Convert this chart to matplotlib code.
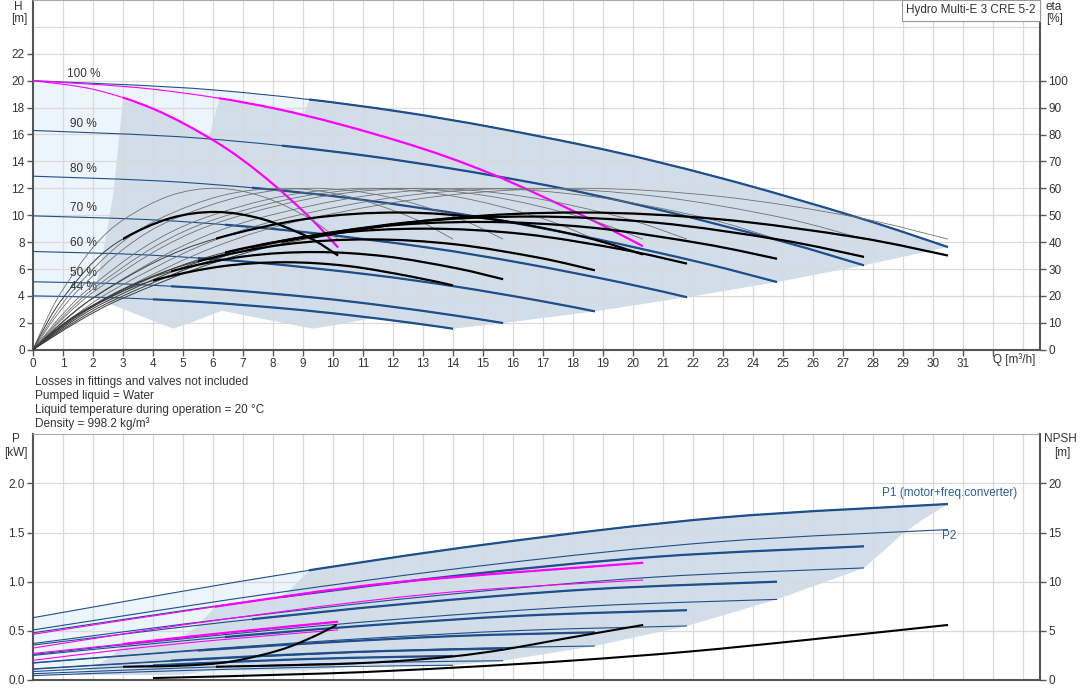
import matplotlib
matplotlib.use("Agg")
import matplotlib.pyplot as plt
from matplotlib.patches import Rectangle, PathPatch
from matplotlib.path import Path

plt.rcParams['font.family'] = ['Liberation Sans', 'DejaVu Sans']
plt.rcParams['font.size'] = 8.5

BLUE = '#1f4f8a'
MAG = '#ff00ff'
DARK_FILL = '#d1dde8'
LIGHT_FILL = '#ecf4fc'
GRID = '#d9d9d9'
AXC = '#555555'
TXT = '#333333'

# ---------------- Q-H curves, 3 pumps, per speed ----------------
speeds = ['100 %', '90 %', '80 %', '70 %', '60 %', '50 %', '44 %']
q3_100 = [0, 6.1, 12.2, 18.3, 22.88, 27.45, 30.5]
h3_100 = [20, 19.30, 17.71, 15.23, 12.79, 9.86, 7.63]
q3_90 = [0, 5.54, 11.08, 16.62, 20.78, 24.93, 27.7]
h3_90 = [16.3, 15.73, 14.43, 12.43, 10.45, 8.08, 6.27]
q3_80 = [0, 4.96, 9.92, 14.88, 18.6, 22.32, 24.8]
h3_80 = [12.9, 12.45, 11.44, 9.86, 8.31, 6.45, 5.03]
q3_70 = [0, 4.36, 8.72, 13.08, 16.35, 19.62, 21.8]
h3_70 = [9.95, 9.61, 8.82, 7.62, 6.42, 4.99, 3.9]
q3_60 = [0, 3.75, 7.49, 11.24, 14.05, 16.86, 18.73]
h3_60 = [7.3, 7.05, 6.47, 5.58, 4.71, 3.65, 2.85]
q3_50 = [0, 3.13, 6.27, 9.4, 11.75, 14.1, 15.67]
h3_50 = [5.05, 4.88, 4.48, 3.87, 3.26, 2.53, 1.98]
q3_44 = [0, 2.8, 5.6, 8.4, 10.5, 12.6, 14.0]
h3_44 = [4.0, 3.86, 3.55, 3.06, 2.58, 2.0, 1.56]
qmin_3p = [9.2, 8.3, 7.3, 6.4, 5.5, 4.6, 4.0]

# 1 and 2 pumps at 100 % (magenta)
q1_100 = [0, 2.03, 4.07, 6.1, 7.63, 9.15, 10.17]
h1_100 = [20, 19.35, 17.85, 15.45, 13.0, 10.0, 7.6]
q2_100 = [0, 4.07, 8.13, 12.2, 15.25, 18.3, 20.33]
h2_100 = [20, 19.35, 17.9, 15.5, 13.1, 10.0, 7.7]

# ---------------- efficiency curves [%] ----------------
qe_1p = [0, 0.51, 1.02, 2.03, 3.05, 4.58, 6.1, 7.63, 9.15, 10.17]
qe_2p = [0, 1.02, 2.03, 4.07, 6.1, 9.15, 12.2, 15.25, 18.3, 20.33]
qe_3p100 = [0, 1.53, 3.05, 6.1, 9.15, 13.73, 18.3, 22.88, 27.45, 30.5]
qe_3p90 = [0, 1.39, 2.77, 5.54, 8.31, 12.47, 16.62, 20.78, 24.93, 27.7]
qe_3p80 = [0, 1.24, 2.48, 4.96, 7.44, 11.16, 14.88, 18.6, 22.32, 24.8]
qe_3p70 = [0, 1.09, 2.18, 4.36, 6.54, 9.81, 13.08, 16.35, 19.62, 21.8]
qe_3p60 = [0, 0.94, 1.87, 3.75, 5.62, 8.43, 11.24, 14.05, 16.86, 18.73]
qe_3p50 = [0, 0.78, 1.57, 3.13, 4.7, 7.05, 9.4, 11.75, 14.1, 15.67]
qe_3p44 = [0, 0.7, 1.4, 2.8, 4.2, 6.3, 8.4, 10.5, 12.6, 14.0]
eta_pump = [0, 12.6, 22.8, 38.4, 48.6, 57.3, 60, 57, 49.2, 41.1]
eta_1p = [0, 10.8, 19.5, 32.8, 41.5, 48.9, 51.2, 48.6, 42.0, 35.0]
eta_2p = [0, 10.7, 19.4, 32.6, 41.3, 48.7, 51.0, 48.6, 42.1, 35.4]
eta_3p100 = [0, 10.7, 19.4, 32.6, 41.3, 48.7, 51.0, 48.5, 41.8, 35.0]
eta_3p90 = [0, 10.4, 18.8, 31.7, 40.1, 47.3, 49.5, 47.2, 40.8, 34.5]
eta_3p80 = [0, 10.0, 18.1, 30.4, 38.5, 45.4, 47.5, 45.4, 39.4, 33.8]
eta_3p70 = [0, 9.5, 17.1, 28.8, 36.5, 43.0, 45.0, 43.0, 37.3, 32.0]
eta_3p60 = [0, 8.6, 15.6, 26.2, 33.2, 39.2, 41.0, 39.2, 34.2, 29.5]
eta_3p50 = [0, 7.6, 13.8, 23.2, 29.4, 34.7, 36.3, 34.7, 30.3, 26.2]
eta_3p44 = [0, 6.8, 12.4, 20.8, 26.3, 31.0, 32.5, 31.1, 27.2, 23.9]

# ---------------- power curves [kW] ----------------
qp_100 = [0, 7.63, 15.25, 22.88, 30.5]
p1_100 = [0.634, 1.039, 1.385, 1.651, 1.79]
p2_100 = [0.509, 0.866, 1.173, 1.407, 1.53]
qp_90 = [0, 6.93, 13.85, 20.78, 27.7]
p1_90 = [0.48, 0.788, 1.052, 1.254, 1.36]
p2_90 = [0.371, 0.640, 0.871, 1.048, 1.14]
qp_80 = [0, 6.2, 12.4, 18.6, 24.8]
p1_80 = [0.355, 0.581, 0.774, 0.923, 1.0]
p2_80 = [0.26, 0.456, 0.624, 0.753, 0.82]
qp_70 = [0, 5.45, 10.9, 16.35, 21.8]
p1_70 = [0.25, 0.411, 0.549, 0.655, 0.71]
p2_70 = [0.175, 0.306, 0.419, 0.505, 0.55]
qp_60 = [0, 4.68, 9.37, 14.05, 18.73]
p1_60 = [0.172, 0.282, 0.375, 0.447, 0.485]
p2_60 = [0.11, 0.193, 0.263, 0.318, 0.346]
qp_50 = [0, 3.92, 7.84, 11.75, 15.67]
p1_50 = [0.113, 0.185, 0.248, 0.295, 0.32]
p2_50 = [0.064, 0.110, 0.150, 0.180, 0.196]
qp_44 = [0, 3.5, 7.0, 10.5, 14.0]
p1_44 = [0.086, 0.141, 0.189, 0.225, 0.244]
p2_44 = [0.045, 0.082, 0.113, 0.137, 0.15]

qm1_p = [0, 3.0, 6.1, 10.17]
pm1_p1 = [0.27, 0.366, 0.47, 0.593]
pm1_p2 = [0.2, 0.31, 0.405, 0.51]
qm2_p1 = [0, 6.07, 12.0, 20.34]
pm2_p1 = [0.465, 0.746, 0.99, 1.193]
qm2_p2 = [0, 5.0, 10.9, 15.0, 20.34]
pm2_p2 = [0.325, 0.56, 0.797, 0.92, 1.017]

# NPSH [m]
qn_1p = [3.0, 4.9, 6.57, 8.23, 9.34, 10.12]
npsh_1p = [1.35, 1.45, 1.86, 3.05, 4.4, 5.6]
qn_2p = [6.1, 9.9, 12.0, 14.0, 15.7, 17.7, 20.34]
npsh_2p = [1.35, 1.6, 1.9, 2.4, 3.1, 4.2, 5.6]
qn_3p = [4.0, 9.9, 14.0, 18.0, 21.9, 25.7, 30.5]
npsh_3p = [0.2, 0.68, 1.25, 1.98, 2.9, 4.05, 5.6]

# ---------------- operating areas ----------------
light_q = [0, 6.1, 9.2, 9.2, 4.0, 2.0, 0]
light_h = [20, 19.30, 18.49, 5.0, 3.85, 3.85, 3.8]
area1_q = [2.0, 2.29, 2.68, 3.0, 4.07, 6.1, 7.63, 9.15, 10.17, 9.23, 8.27, 7.27, 6.24, 5.22, 4.67]
area1_h = [3.9, 6.6, 11.6, 18.6, 17.85, 15.45, 13.0, 10.0, 7.6, 6.27, 5.03, 3.9, 2.85, 1.98, 1.56]
area2_q = [4.0, 4.58, 5.36, 6.2, 8.13, 12.2, 15.25, 18.3, 20.33, 18.47, 16.53, 14.53, 12.49, 10.45, 9.33]
area2_h = [3.9, 6.6, 11.6, 18.55, 17.9, 15.5, 13.1, 10.0, 7.7, 6.27, 5.03, 3.9, 2.85, 1.98, 1.56]
area3_q = [6.0, 6.87, 8.04, 9.2, 12.2, 18.3, 22.88, 27.45, 30.5, 27.7, 24.8, 21.8, 18.73, 15.67, 14.0]
area3_h = [3.9, 6.6, 11.6, 18.49, 17.71, 15.23, 12.79, 9.86, 7.63, 6.27, 5.03, 3.9, 2.85, 1.98, 1.56]

plight_q = [0, 7.63, 9.2, 9.2, 0]
plight_p = [0.634, 1.039, 1.11, 0.05, 0.05]
parea1_q = [1.33, 1.53, 1.83, 2.13, 2.43, 2.77, 3.0, 6.1, 10.17, 10.17, 9.23, 8.27, 7.27, 6.24, 5.22, 4.67]
parea1_p = [0.05, 0.065, 0.099, 0.145, 0.205, 0.28, 0.366, 0.47, 0.593, 0.51, 0.38, 0.273, 0.183, 0.115, 0.065, 0.05]
parea2_q = [2.67, 3.07, 3.67, 4.27, 4.87, 5.53, 6.07, 12.0, 20.34, 20.33, 18.47, 16.53, 14.53, 12.49, 10.45, 9.33]
parea2_p = [0.099, 0.131, 0.199, 0.29, 0.41, 0.56, 0.746, 0.99, 1.193, 1.017, 0.76, 0.547, 0.367, 0.23, 0.13, 0.1]
parea3_q = [4.0, 4.6, 5.5, 6.4, 7.3, 8.3, 9.2, 15.25, 22.88, 30.5, 29.6, 29.0, 28.3, 27.7, 24.8, 21.8, 18.73, 15.67, 14.0]
parea3_p = [0.148, 0.196, 0.298, 0.435, 0.615, 0.84, 1.11, 1.385, 1.651, 1.79, 1.62, 1.49, 1.3, 1.14, 0.82, 0.55, 0.346, 0.196, 0.15]


def smooth_path(q, y):
    # Bezier path through the read points (Catmull-Rom tangents)
    pts = list(zip(q, y))
    n = len(pts)
    verts = [pts[0]]
    codes = [Path.MOVETO]
    for i in range(n - 1):
        p0 = pts[i - 1] if i > 0 else pts[i]
        p1 = pts[i]
        p2 = pts[i + 1]
        p3 = pts[i + 2] if i + 2 < n else pts[i + 1]
        c1 = (p1[0] + (p2[0] - p0[0]) / 6, p1[1] + (p2[1] - p0[1]) / 6)
        c2 = (p2[0] - (p3[0] - p1[0]) / 6, p2[1] - (p3[1] - p1[1]) / 6)
        verts += [c1, c2, p2]
        codes += [Path.CURVE4] * 3
    return Path(verts, codes)


def curve(ax, q, y, color, lw, z, qs=None):
    patch = PathPatch(smooth_path(q, y), fill=False, edgecolor=color, lw=lw,
                      zorder=z, capstyle='butt', joinstyle='round')
    ax.add_patch(patch)
    if qs is not None:
        patch.set_clip_path(Rectangle((qs, -100), 300, 2000, transform=ax.transData))
    return patch


def split_line(ax, q, y, qs, color, thin=0.8, thick=1.6, thin_color=None, z=4):
    # thin over the whole curve, thick only from qs on
    curve(ax, q, y, thin_color or color, thin, z)
    curve(ax, q, y, color, thick, z + 0.1, qs)


def style_axes(ax, twin):
    for s in ['left', 'bottom']:
        ax.spines[s].set_color(AXC)
        ax.spines[s].set_linewidth(1.5)
    ax.spines['top'].set_color('#aaaaaa')
    ax.spines['right'].set_visible(False)
    for s in ['left', 'top', 'bottom']:
        twin.spines[s].set_visible(False)
    twin.spines['right'].set_color(AXC)
    twin.spines['right'].set_linewidth(1.5)
    for a in (ax, twin):
        a.tick_params(direction='out', length=4, width=1, color=AXC,
                      labelcolor=TXT, labelsize=8.5, pad=2)


def fig_label(x, y, s, **kw):
    fig.text(x / 1082, 1 - y / 700, s, color=TXT, fontsize=8.5, va='center', **kw)


XMAX = 1007 / 30
fig = plt.figure(figsize=(10.82, 7.0), dpi=100)

# ================= upper chart: H / eta =================
ax = fig.add_axes([33 / 1082, 1 - 349.7 / 700, 1007 / 1082, 349.7 / 700])
ax.set_xlim(0, XMAX)
ax.set_ylim(0, 26)
ax_eta = ax.twinx()
ax_eta.set_ylim(0, 130)
style_axes(ax, ax_eta)

for q in range(1, 34):
    ax.axvline(q, color=GRID, lw=0.9, zorder=1.5)
for h in range(2, 26, 2):
    ax.axhline(h, color=GRID, lw=0.9, zorder=1.5)

ax.fill(light_q, light_h, color=LIGHT_FILL, lw=0, zorder=1)
for aq, ah in [(area1_q, area1_h), (area2_q, area2_h), (area3_q, area3_h)]:
    ax.fill(aq, ah, color=DARK_FILL, lw=0, zorder=1.2)

qh_curves = [(q3_100, h3_100), (q3_90, h3_90), (q3_80, h3_80), (q3_70, h3_70),
             (q3_60, h3_60), (q3_50, h3_50), (q3_44, h3_44)]
for (q, h), qs in zip(qh_curves, qmin_3p):
    split_line(ax, q, h, qs, BLUE, z=4)
split_line(ax, q1_100, h1_100, 3.0, MAG, z=5)
split_line(ax, q2_100, h2_100, 6.2, MAG, z=5)

eta_q = [qe_1p, qe_2p, qe_3p100, qe_3p90, qe_3p80, qe_3p70, qe_3p60, qe_3p50, qe_3p44]
eta_tot = [eta_1p, eta_2p, eta_3p100, eta_3p90, eta_3p80, eta_3p70, eta_3p60, eta_3p50, eta_3p44]
eta_qs = [3.0, 6.1] + qmin_3p
for q in eta_q:
    curve(ax_eta, q, eta_pump, '#707070', 0.6, 3)
for q, e, qs in zip(eta_q, eta_tot, eta_qs):
    split_line(ax_eta, q, e, qs, 'black', thin=0.7, thick=1.6, thin_color='#3c3c3c', z=3)

ax.set_xticks(range(0, 33))
ax.set_xticklabels([str(i) for i in range(0, 32)] + [''])
ax.set_yticks(range(0, 23, 2))
ax_eta.set_yticks(range(0, 101, 10))

label_pos = [(1.13, 20.47), (1.23, 16.75), (1.23, 13.47), (1.23, 10.5),
             (1.23, 7.9), (1.23, 5.69), (1.23, 4.64)]
for lab, (lq, lh) in zip(speeds, label_pos):
    ax.text(lq, lh, lab, color=TXT, fontsize=8.5, ha='left', va='center', zorder=6)

fig_label(1014, 360, 'Q [m³/h]', ha='center')
fig_label(18, 7, 'H', ha='center')
fig_label(19, 19, '[m]', ha='center')
fig_label(1054, 7, 'eta', ha='center')
fig_label(1055, 19, '[%]', ha='center')
fig_label(971, 10.5, 'Hydro Multi-E 3 CRE 5-2', ha='center',
          bbox=dict(boxstyle='square,pad=0.4', fc='white', ec='#999999', lw=0.8))

notes = ['Losses in fittings and valves not included', 'Pumped liquid = Water',
         'Liquid temperature during operation = 20 °C', 'Density = 998.2 kg/m³']
for i, line in enumerate(notes):
    fig_label(35, 381.7 + 13.9 * i, line, ha='left')

# ================= lower chart: P / NPSH =================
axb = fig.add_axes([33 / 1082, 20 / 700, 1007 / 1082, 245.75 / 700])
axb.set_xlim(0, XMAX)
axb.set_ylim(0, 2.5)
ax_np = axb.twinx()
ax_np.set_ylim(0, 25)
style_axes(axb, ax_np)

for q in range(1, 34):
    axb.axvline(q, color=GRID, lw=0.9, zorder=1.5)
for p in [0.5, 1.0, 1.5, 2.0]:
    axb.axhline(p, color=GRID, lw=0.9, zorder=1.5)

axb.fill(plight_q, plight_p, color=LIGHT_FILL, lw=0, zorder=1)
for aq, ap in [(parea1_q, parea1_p), (parea2_q, parea2_p), (parea3_q, parea3_p)]:
    axb.fill(aq, ap, color=DARK_FILL, lw=0, zorder=1.2)

p_curves = [(qp_100, p1_100, p2_100), (qp_90, p1_90, p2_90), (qp_80, p1_80, p2_80),
            (qp_70, p1_70, p2_70), (qp_60, p1_60, p2_60), (qp_50, p1_50, p2_50),
            (qp_44, p1_44, p2_44)]
for (q, p1, p2), qs in zip(p_curves, qmin_3p):
    curve(axb, q, p2, BLUE, 0.8, 4)
    split_line(axb, q, p1, qs, BLUE, z=4)

curve(axb, qm1_p, pm1_p2, MAG, 0.8, 5)
split_line(axb, qm1_p, pm1_p1, 3.0, MAG, z=5)
curve(axb, qm2_p2, pm2_p2, MAG, 0.8, 5)
split_line(axb, qm2_p1, pm2_p1, 6.07, MAG, z=5)

for q, n in [(qn_1p, npsh_1p), (qn_2p, npsh_2p), (qn_3p, npsh_3p)]:
    curve(ax_np, q, n, 'black', 1.5, 4)

axb.set_xticks(range(0, 34))
axb.tick_params(axis='x', length=0, labelbottom=False)
axb.set_yticks([0, 0.5, 1.0, 1.5, 2.0])
axb.set_yticklabels(['0.0', '0.5', '1.0', '1.5', '2.0'])
ax_np.set_yticks([0, 5, 10, 15, 20])

fig.text(882 / 1082, 1 - 493 / 700, 'P1 (motor+freq.converter)', ha='left', va='center',
         color='#2f5d93', fontsize=8.5)
fig.text(942 / 1082, 1 - 536 / 700, 'P2', ha='left', va='center',
         color='#2f5d93', fontsize=8.5)
fig_label(16, 439, 'P', ha='center')
fig_label(16, 453, '[kW]', ha='center')
fig_label(1060, 439, 'NPSH', ha='center')
fig_label(1062, 453, '[m]', ha='center')

fig.savefig('out.png', dpi=100)
